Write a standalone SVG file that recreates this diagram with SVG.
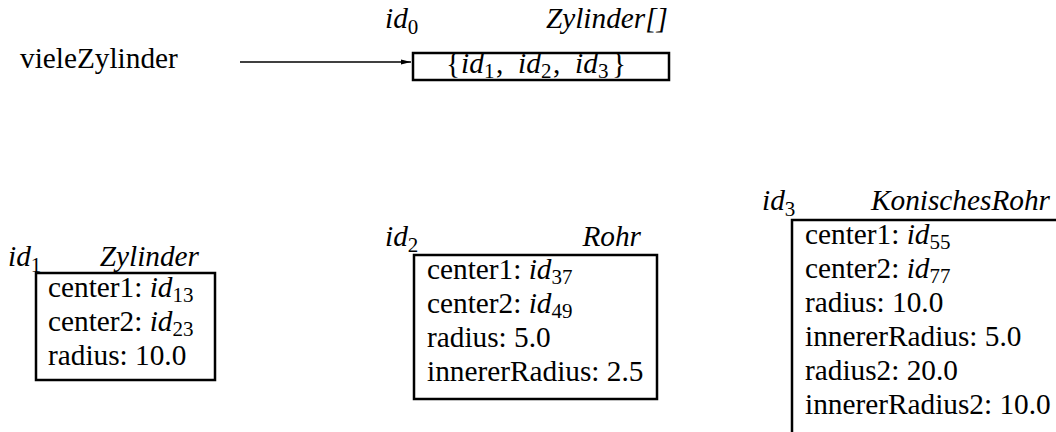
<svg xmlns="http://www.w3.org/2000/svg" width="1056" height="432" viewBox="0 0 1056 432">
<defs>
<marker id="ah" markerWidth="10" markerHeight="6" refX="10" refY="3" orient="auto" markerUnits="userSpaceOnUse">
<path d="M0,0.5 L10,3 L0,5.5 Z" fill="#000"/>
</marker>
<style>
text{font-family:"Liberation Serif","Times New Roman",serif;font-size:29.3px;fill:#000}
.it{font-style:italic}
.sub{font-size:21px;font-style:normal}
.box{fill:#fff;stroke:#000;stroke-width:2.5}
.conn{stroke:#000;stroke-width:1.6;fill:none}
</style>
</defs>
<rect width="1056" height="432" fill="#fff"/>
<g id="var">
<text x="20" y="68">vieleZylinder</text>
</g>
<g id="connectors">
<line class="conn" x1="240" y1="62" x2="411" y2="62" marker-end="url(#ah)"/>
</g>
<g id="node-id0">
<text x="385" y="28"><tspan class="it">id</tspan><tspan class="sub" dy="6">0</tspan></text>
<text class="it" x="668" y="28" text-anchor="end">Zylinder[]</text>
<rect class="box" x="413" y="53" width="256" height="27"/>
<text y="73"><tspan x="446">{</tspan><tspan class="it" x="461">id</tspan><tspan class="sub" x="484" dy="5">1</tspan><tspan x="496" dy="-5">,</tspan><tspan class="it" x="518">id</tspan><tspan class="sub" x="541" dy="5">2</tspan><tspan x="553" dy="-5">,</tspan><tspan class="it" x="575">id</tspan><tspan class="sub" x="598" dy="5">3</tspan><tspan x="612" dy="-5">}</tspan></text>
</g>
<g id="node-id1">
<text x="8" y="266"><tspan class="it">id</tspan><tspan class="sub" dy="6">1</tspan></text>
<text class="it" x="199" y="266" text-anchor="end">Zylinder</text>
<rect class="box" x="36" y="273" width="179" height="107"/>
<text x="48" y="297">center1: <tspan class="it">id</tspan><tspan class="sub" dy="5">13</tspan></text>
<text x="48" y="331">center2: <tspan class="it">id</tspan><tspan class="sub" dy="5">23</tspan></text>
<text x="48" y="365">radius: 10.0</text>
</g>
<g id="node-id2">
<text x="385" y="246"><tspan class="it">id</tspan><tspan class="sub" dy="6">2</tspan></text>
<text class="it" x="641" y="246" text-anchor="end">Rohr</text>
<rect class="box" x="414" y="255" width="243" height="144"/>
<text x="427" y="279">center1: <tspan class="it">id</tspan><tspan class="sub" dy="5">37</tspan></text>
<text x="427" y="313">center2: <tspan class="it">id</tspan><tspan class="sub" dy="5">49</tspan></text>
<text x="427" y="347">radius: 5.0</text>
<text x="427" y="381">innererRadius: 2.5</text>
</g>
<g id="node-id3">
<text x="762" y="210"><tspan class="it">id</tspan><tspan class="sub" dy="6">3</tspan></text>
<text class="it" x="1050" y="210" text-anchor="end">KonischesRohr</text>
<rect class="box" x="792" y="220" width="280" height="230"/>
<text x="805" y="244">center1: <tspan class="it">id</tspan><tspan class="sub" dy="5">55</tspan></text>
<text x="805" y="278">center2: <tspan class="it">id</tspan><tspan class="sub" dy="5">77</tspan></text>
<text x="805" y="312">radius: 10.0</text>
<text x="805" y="346">innererRadius: 5.0</text>
<text x="805" y="380">radius2: 20.0</text>
<text x="805" y="414">innererRadius2: 10.0</text>
</g>
</svg>
